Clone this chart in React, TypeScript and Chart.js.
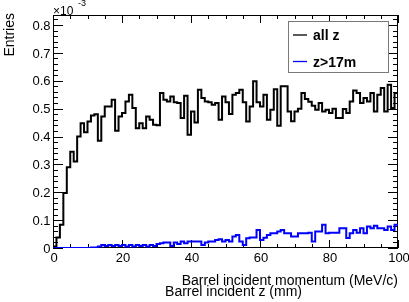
import React, { useEffect, useRef } from "react";
import { Chart, registerables } from "chart.js";
Chart.register(...registerables);

// Histogram contents (units of 1e-3), one value per 1 MeV/c bin from 0 to 100
const allZ = [
  0.005, 0.038, 0.083, 0.197, 0.29, 0.345, 0.31, 0.4, 0.448, 0.415,
  0.454, 0.475, 0.48, 0.385, 0.472, 0.508, 0.508, 0.532, 0.421, 0.472,
  0.484, 0.526, 0.55, 0.502, 0.43, 0.448, 0.43, 0.472, 0.46, 0.442,
  0.44, 0.556, 0.532, 0.526, 0.544, 0.523, 0.52, 0.466, 0.546, 0.406,
  0.49, 0.45, 0.568, 0.538, 0.526, 0.523, 0.514, 0.52, 0.46, 0.544,
  0.523, 0.481, 0.55, 0.556, 0.568, 0.523, 0.454, 0.508, 0.598, 0.523,
  0.508, 0.55, 0.46, 0.496, 0.57, 0.439, 0.58, 0.58, 0.49, 0.455,
  0.49, 0.5, 0.556, 0.535, 0.525, 0.51, 0.496, 0.52, 0.49, 0.496,
  0.484, 0.5, 0.466, 0.466, 0.499, 0.484, 0.526, 0.565, 0.556, 0.52,
  0.538, 0.526, 0.556, 0.49, 0.55, 0.574, 0.49, 0.586, 0.502, 0.556,
];
const zAbove17 = [
  0, 0, 0, 0, 0, 0, 0, 0, 0, 0,
  0, 0.002, 0.002, 0.005, 0.011, 0.007, 0.011, 0.007, 0.011, 0.007,
  0.011, 0.005, 0.011, 0.005, 0.011, 0.007, 0.011, 0.005, 0.011, 0.007,
  0.014, 0.017, 0.02, 0.02, 0.007, 0.02, 0.014, 0.023, 0.017, 0.023,
  0.023, 0.023, 0.023, 0.011, 0.02, 0.023, 0.023, 0.029, 0.031, 0.023,
  0.029, 0.023, 0.041, 0.047, 0.023, 0.011, 0.035, 0.038, 0.038, 0.065,
  0.029, 0.037, 0.047, 0.053, 0.053, 0.059, 0.065, 0.053, 0.053, 0.041,
  0.041, 0.053, 0.053, 0.053, 0.055, 0.023, 0.059, 0.059, 0.083, 0.053,
  0.055, 0.055, 0.055, 0.071, 0.071, 0.036, 0.053, 0.065, 0.055, 0.071,
  0.053, 0.077, 0.071, 0.08, 0.071, 0.071, 0.065, 0.077, 0.065, 0.083,
];
const seriesLabels = ["all z", "z>17m"];
const seriesColors = ["#000000", "#0000ff"];
const yTickLabels = ["0", "0.1", "0.2", "0.3", "0.4", "0.5", "0.6", "0.7", "0.8"];
const xTickLabels = ["0", "20", "40", "60", "80", "100"];
const xTitles = ["Barrel incident momentum (MeV/c)", "Barrel incident z (mm)"];
const yTitle = "Entries";
const X_MIN = 0;
const X_MAX = 100;
const Y_MIN = 0;
const Y_MAX = 0.836;

const FONT = "'Liberation Sans', Arial, Helvetica, sans-serif";

function toSteps(vals: number[]) {
  const pts: { x: number; y: number }[] = [{ x: 0, y: 0 }];
  vals.forEach((v, i) => pts.push({ x: i, y: v }));
  pts.push({ x: vals.length, y: vals[vals.length - 1] });
  return pts;
}

const rootFrame = {
  id: "rootFrame",
  beforeDatasetsDraw(chart: any) {
    const { ctx, chartArea } = chart;
    const { left, right, top, bottom } = chartArea;
    const xs = chart.scales.x;
    const ys = chart.scales.y;
    ctx.save();
    ctx.strokeStyle = "#000";
    ctx.lineWidth = 1;
    ctx.strokeRect(left + 0.5, top + 0.5, right - left - 1, bottom - top - 1);
    ctx.beginPath();
    for (let k = 0; k * 0.02 <= Y_MAX + 1e-9; k++) {
      const py = Math.round(ys.getPixelForValue(k * 0.02)) + 0.5;
      const len = k % 5 === 0 ? 10 : 5;
      ctx.moveTo(left, py);
      ctx.lineTo(left + len, py);
      ctx.moveTo(right, py);
      ctx.lineTo(right - len, py);
    }
    for (let v = X_MIN; v <= X_MAX; v += 5) {
      const px = Math.round(xs.getPixelForValue(v)) + 0.5;
      const len = v % 20 === 0 ? 8 : 4;
      ctx.moveTo(px, bottom);
      ctx.lineTo(px, bottom - len);
      ctx.moveTo(px, top);
      ctx.lineTo(px, top + len);
    }
    ctx.stroke();
    ctx.restore();
  },
  afterDatasetsDraw(chart: any) {
    const { ctx, chartArea } = chart;
    const { left, right, bottom } = chartArea;
    const xs = chart.scales.x;
    const ys = chart.scales.y;
    ctx.save();
    ctx.fillStyle = "#000";
    ctx.font = `13px ${FONT}`;
    ctx.textAlign = "right";
    ctx.textBaseline = "alphabetic";
    yTickLabels.forEach((t) => {
      const py = ys.getPixelForValue(parseFloat(t));
      ctx.fillText(t, left - 2.5, py + 4.7);
    });
    ctx.textAlign = "center";
    xTickLabels.forEach((t) => {
      const px = xs.getPixelForValue(parseFloat(t));
      ctx.fillText(t, px + 1, bottom + 14);
    });

    ctx.textAlign = "left";
    ctx.font = `12px ${FONT}`;
    ctx.fillText("\u00d710", left, 15);
    ctx.font = `9px ${FONT}`;
    ctx.fillText("-3", left + 25, 6);

    ctx.font = `14px ${FONT}`;
    ctx.textAlign = "right";
    ctx.fillText(xTitles[0], right, 285);
    ctx.fillText(xTitles[1], 302, 296);
    ctx.save();
    ctx.translate(13.5, 13);
    ctx.rotate(-Math.PI / 2);
    ctx.textAlign = "right";
    ctx.fillText(yTitle, 0, 0);
    ctx.restore();

    ctx.fillStyle = "#fff";
    ctx.fillRect(288.5, 21.5, 100, 51);
    ctx.strokeStyle = "#7a7a7a";
    ctx.lineWidth = 1;
    ctx.strokeRect(288.5, 21.5, 100, 51);
    const rows = [35, 61.5];
    seriesLabels.forEach((lab, i) => {
      ctx.strokeStyle = seriesColors[i];
      ctx.lineWidth = 1.3;
      ctx.beginPath();
      ctx.moveTo(293, rows[i]);
      ctx.lineTo(307, rows[i]);
      ctx.stroke();
      ctx.fillStyle = "#000";
      ctx.font = `bold 14px ${FONT}`;
      ctx.textAlign = "left";
      ctx.fillText(lab, 313, rows[i] + 5);
    });
    ctx.restore();
  },
};

export default function App() {
  const ref = useRef<HTMLCanvasElement | null>(null);
  useEffect(() => {
    if (!ref.current) return;
    const chart = new Chart(ref.current, {
      type: "line",
      data: {
        datasets: [
          {
            label: seriesLabels[0],
            data: toSteps(allZ),
            borderColor: seriesColors[0],
            borderWidth: 2,
            pointRadius: 0,
            stepped: "before",
            fill: false,
            order: 1,
          },
          {
            label: seriesLabels[1],
            data: toSteps(zAbove17),
            borderColor: seriesColors[1],
            borderWidth: 2,
            pointRadius: 0,
            stepped: "before",
            fill: false,
            order: 0,
          },
        ],
      },
      options: {
        animation: false,
        responsive: false,
        devicePixelRatio: 1,
        parsing: false,
        layout: { padding: { left: 53, right: 11, top: 15, bottom: 54 } },
        plugins: { legend: { display: false }, tooltip: { enabled: false } },
        scales: {
          x: { type: "linear", min: X_MIN, max: X_MAX, display: false },
          y: { type: "linear", min: Y_MIN, max: Y_MAX, display: false },
        },
      },
      plugins: [rootFrame],
    } as any);
    return () => chart.destroy();
  }, []);
  return (
    <div style={{ position: "fixed", left: 0, top: 0, width: 409, height: 302, background: "#fff" }}>
      <canvas ref={ref} width={409} height={302} style={{ width: 409, height: 302, display: "block" }} />
    </div>
  );
}
